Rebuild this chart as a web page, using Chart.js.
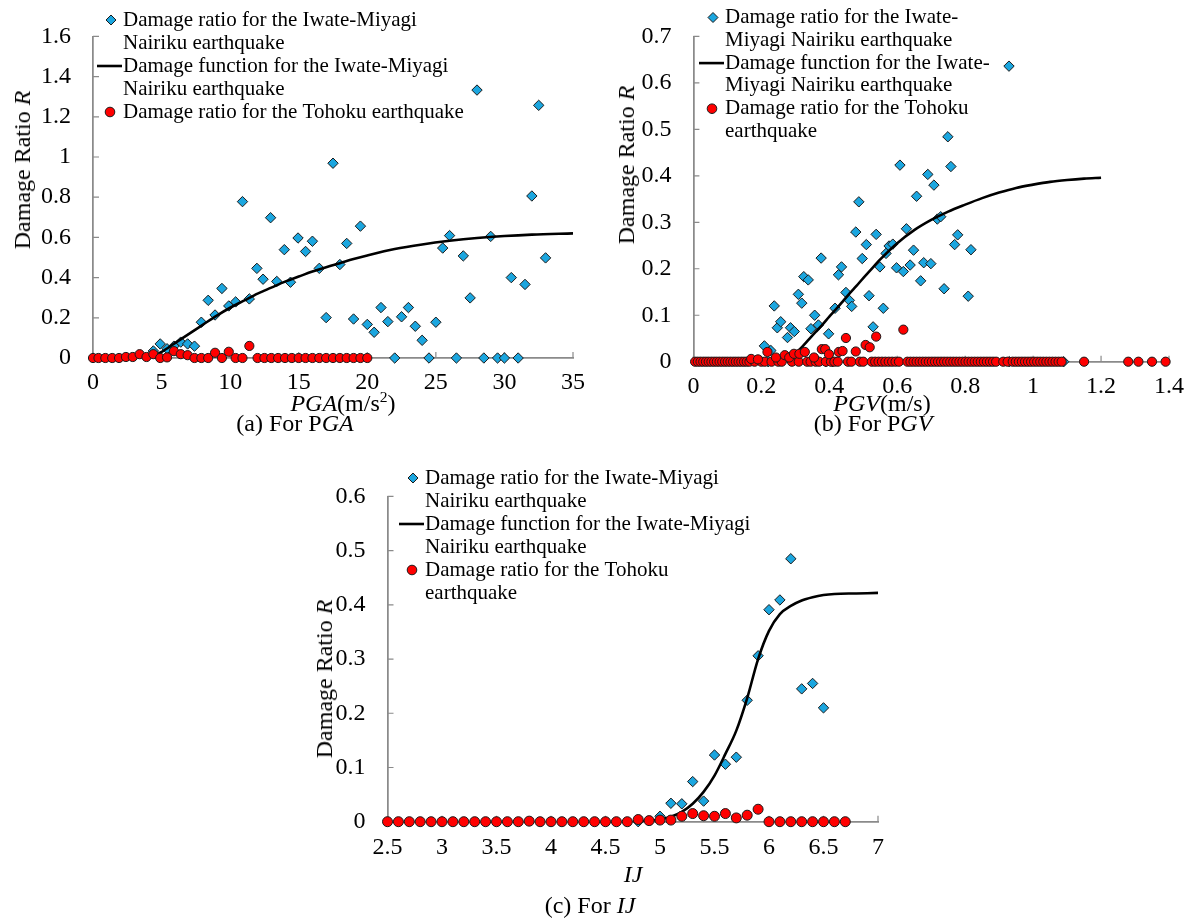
<!DOCTYPE html>
<html>
<head>
<meta charset="utf-8">
<script src="https://cdn.jsdelivr.net/npm/chart.js@4.4.1/dist/chart.umd.min.js"></script>
<style>
  body { margin: 0; background: #fff; width: 1195px; height: 924px; position: relative; overflow: hidden;
         font-family: "Liberation Serif", "Times New Roman", serif; color: #000; }
  canvas { position: absolute; }
  .lbl { position: absolute; white-space: nowrap; transform: translate(-50%, -50%); font-size: 24px; line-height: 1; }
  .ylbl { transform: translate(-50%, -50%) rotate(-90deg); }
  sup { font-size: 65%; vertical-align: 0.55em; line-height: 0; }
</style>
</head>
<body>
<canvas id="chart-pga" width="600" height="400" style="left:0;top:0"></canvas>
<canvas id="chart-pgv" width="595" height="400" style="left:600px;top:0"></canvas>
<canvas id="chart-ij" width="620" height="420" style="left:290px;top:460px"></canvas>

<div class="lbl ylbl" style="left:22px;top:170px">Damage Ratio <i>R</i></div>
<div class="lbl" style="left:343px;top:403px"><i>PGA</i>(m/s<sup>2</sup>)</div>
<div class="lbl" style="left:295px;top:423px">(a) For P<i>GA</i></div>

<div class="lbl ylbl" style="left:626px;top:165px">Damage Ratio <i>R</i></div>
<div class="lbl" style="left:882px;top:403px"><i>PGV</i>(m/s)</div>
<div class="lbl" style="left:873px;top:423px">(b) For P<i>GV</i></div>

<div class="lbl ylbl" style="left:324px;top:679px">Damage Ratio <i>R</i></div>
<div class="lbl" style="left:633px;top:874px"><i>IJ</i></div>
<div class="lbl" style="left:590px;top:905px">(c) For <i>IJ</i></div>

<script>
// ---- (a) PGA ----
const pgaIwateX = [4.4, 4.9, 5.4, 5.9, 6.4, 6.9, 7.4, 7.9, 8.4, 8.9, 9.4, 9.9, 10.4, 10.9, 11.4, 11.95,
  12.4, 12.95, 13.4, 13.95, 14.4, 14.95, 15.5, 16, 16.5, 17, 17.5, 18, 18.5, 19, 19.5, 20, 20.5, 21,
  21.5, 22, 22.5, 23, 23.5, 24, 24.5, 25, 25.5, 26, 26.5, 27, 27.5, 28, 28.5, 29, 29.5, 30, 30.5, 31,
  31.5, 32, 32.5, 33];
const pgaIwateY = [0.035, 0.07, 0.046, 0.059, 0.079, 0.07, 0.059, 0.178, 0.287, 0.214, 0.346, 0.259,
  0.279, 0.778, 0.294, 0.446, 0.392, 0.698, 0.381, 0.539, 0.377, 0.597, 0.53, 0.581, 0.446, 0.201,
  0.969, 0.465, 0.57, 0.194, 0.656, 0.167, 0.128, 0.251, 0.181, 0, 0.205, 0.251, 0.158, 0.088, 0,
  0.178, 0.547, 0.609, 0, 0.508, 0.299, 1.333, 0, 0.605, 0, 0, 0.4, 0, 0.366, 0.806, 1.257, 0.498];
const pgaCurveX = [4.2, 5, 6, 7, 8, 9, 10, 11, 12, 13, 14, 15, 16, 17, 18, 19, 20, 22, 24, 26, 28, 30, 32, 35];
const pgaCurveY = [0, 0.03, 0.075, 0.12, 0.165, 0.21, 0.25, 0.285, 0.32, 0.35, 0.38, 0.405, 0.43,
  0.452, 0.472, 0.492, 0.51, 0.542, 0.565, 0.583, 0.597, 0.607, 0.614, 0.62];
const pgaTohokuX = [0, 0.4, 0.9, 1.4, 1.9, 2.4, 2.9, 3.4, 3.9, 4.4, 4.9, 5.4, 5.9, 6.4, 6.9, 7.4, 7.9,
  8.4, 8.9, 9.4, 9.9, 10.4, 10.9, 11.4, 12, 12.5, 13, 13.5, 14, 14.5, 15, 15.5, 16, 16.5, 17, 17.5,
  18, 18.5, 19, 19.5, 20];
const pgaTohokuY = [0, 0, 0, 0, 0, 0.005, 0.005, 0.019, 0.005, 0.019, 0, 0.003, 0.034, 0.019, 0.014,
  0, 0, 0, 0.026, 0, 0.031, 0, 0, 0.06, 0, 0, 0, 0, 0, 0, 0, 0, 0, 0, 0, 0, 0, 0, 0, 0, 0];
const pgaTicksX = [0, 5, 10, 15, 20, 25, 30, 35];
const pgaTicksY = [0, 0.2, 0.4, 0.6, 0.8, 1, 1.2, 1.4, 1.6];

// ---- (b) PGV ----
const pgvIwateX = [0.209, 0.228, 0.238, 0.247, 0.257, 0.277, 0.286, 0.297, 0.309, 0.319, 0.325, 0.338,
  0.346, 0.357, 0.368, 0.376, 0.398, 0.417, 0.427, 0.436, 0.449, 0.459, 0.466, 0.478, 0.487, 0.497,
  0.509, 0.517, 0.529, 0.538, 0.549, 0.559, 0.567, 0.576, 0.587, 0.598, 0.608, 0.618, 0.627, 0.638,
  0.648, 0.657, 0.669, 0.678, 0.69, 0.699, 0.708, 0.718, 0.728, 0.738, 0.749, 0.758, 0.769, 0.778,
  0.809, 0.817, 0.929, 0.22, 0.39, 0.41, 0.93, 1.09];
const pgvIwateY = [0.034, 0.024, 0.12, 0.073, 0.086, 0.052, 0.073, 0.065, 0.145, 0.126, 0.183, 0.176,
  0.071, 0.1, 0.079, 0.223, 0.06, 0.115, 0.187, 0.204, 0.149, 0.132, 0.119, 0.279, 0.344, 0.222,
  0.252, 0.142, 0.075, 0.274, 0.204, 0.115, 0.233, 0.249, 0.253, 0.202, 0.423, 0.194, 0.286, 0.208,
  0.24, 0.356, 0.174, 0.213, 0.403, 0.211, 0.38, 0.307, 0.312, 0.157, 0.484, 0.42, 0.252, 0.273,
  0.141, 0.241, 0.636, 0, 0, 0, 0, 0];
const pgvCurveX = [0.22, 0.26, 0.28, 0.3, 0.32, 0.34, 0.36, 0.38, 0.4, 0.42, 0.44, 0.46, 0.48, 0.5,
  0.52, 0.55, 0.6, 0.65, 0.7, 0.75, 0.8, 0.85, 0.9, 0.95, 1, 1.05, 1.1, 1.15, 1.2];
const pgvCurveY = [0, 0.003, 0.008, 0.018, 0.032, 0.048, 0.064, 0.08, 0.097, 0.113, 0.13, 0.147,
  0.163, 0.18, 0.196, 0.22, 0.255, 0.283, 0.305, 0.323, 0.338, 0.352, 0.364, 0.374, 0.381, 0.387,
  0.391, 0.394, 0.396];
// Tohoku points lying on R = 0
const pgvTohokuZeroX = [0.005, 0.013, 0.021, 0.029, 0.037, 0.045, 0.053, 0.061, 0.069, 0.077, 0.085,
  0.093, 0.101, 0.109, 0.117, 0.125, 0.133, 0.141, 0.149, 0.157, 0.165, 0.18, 0.2, 0.21, 0.23, 0.25,
  0.26, 0.29, 0.31, 0.335, 0.345, 0.36, 0.37, 0.39, 0.405, 0.415, 0.425, 0.455, 0.465, 0.49, 0.5,
  0.525, 0.535, 0.545, 0.555, 0.565, 0.575, 0.585, 0.595, 0.605, 0.63, 0.639, 0.648, 0.657, 0.666,
  0.675, 0.684, 0.693, 0.702, 0.711, 0.72, 0.729, 0.738, 0.747, 0.756, 0.765, 0.774, 0.783, 0.792,
  0.801, 0.81, 0.819, 0.828, 0.837, 0.846, 0.855, 0.864, 0.873, 0.882, 0.891, 0.912, 0.925, 0.94,
  0.949, 0.958, 0.967, 0.976, 0.985, 0.994, 1.003, 1.012, 1.021, 1.03, 1.039, 1.048, 1.057, 1.066,
  1.075, 1.084, 1.15, 1.28, 1.31, 1.35, 1.39];
const pgvTohokuX = [0.17, 0.19, 0.218, 0.243, 0.269, 0.282, 0.296, 0.312, 0.328, 0.355, 0.378, 0.388,
  0.399, 0.428, 0.439, 0.449, 0.478, 0.507, 0.519, 0.538, 0.618];
const pgvTohokuY = [0.006, 0.005, 0.021, 0.009, 0.014, 0.009, 0.017, 0.017, 0.021, 0.009, 0.027,
  0.027, 0.016, 0.021, 0.023, 0.051, 0.022, 0.036, 0.031, 0.054, 0.069];
const pgvTicksX = [0, 0.2, 0.4, 0.6, 0.8, 1, 1.2, 1.4];
const pgvTicksY = [0, 0.1, 0.2, 0.3, 0.4, 0.5, 0.6, 0.7];

// ---- (c) IJ ----
const ijIwateX = [4.8, 5, 5.1, 5.2, 5.3, 5.4, 5.5, 5.6, 5.7, 5.8, 5.9, 6, 6.1, 6.2, 6.3, 6.4, 6.5];
const ijIwateY = [0, 0.01, 0.034, 0.033, 0.074, 0.038, 0.123, 0.106, 0.119, 0.224, 0.306, 0.391,
  0.409, 0.485, 0.245, 0.255, 0.21];
const ijCurveX = [4.75, 5, 5.1, 5.2, 5.3, 5.4, 5.5, 5.6, 5.7, 5.8, 5.9, 6, 6.1, 6.2, 6.3, 6.4, 6.5, 6.6, 6.8, 7];
const ijCurveY = [0, 0.004, 0.009, 0.018, 0.033, 0.055, 0.085, 0.125, 0.168, 0.228, 0.3, 0.352,
  0.383, 0.398, 0.408, 0.414, 0.418, 0.42, 0.421, 0.422];
const ijTohokuX = [2.5, 2.6, 2.7, 2.8, 2.9, 3, 3.1, 3.2, 3.3, 3.4, 3.5, 3.6, 3.7, 3.8, 3.9, 4, 4.1,
  4.2, 4.3, 4.4, 4.5, 4.6, 4.7, 4.8, 4.9, 5, 5.1, 5.2, 5.3, 5.4, 5.5, 5.6, 5.7, 5.8, 5.9, 6, 6.1,
  6.2, 6.3, 6.4, 6.5, 6.6, 6.7];
const ijTohokuY = [0, 0, 0, 0, 0, 0, 0, 0, 0, 0, 0, 0, 0, 0.001, 0, 0, 0, 0, 0, 0, 0, 0, 0, 0.004,
  0.002, 0.003, 0.003, 0.01, 0.015, 0.011, 0.01, 0.015, 0.007, 0.012, 0.023, 0, 0, 0, 0, 0, 0, 0, 0];
const ijTicksX = [2.5, 3, 3.5, 4, 4.5, 5, 5.5, 6, 6.5, 7];
const ijTicksY = [0, 0.1, 0.2, 0.3, 0.4, 0.5, 0.6];

const GRAY = "#8a8a8a";
const BLUE = "#1ba6df";
const RED = "#ff0000";
const EDGE = "#1a1a1a";
const SERIF = '"Liberation Serif", "Times New Roman", serif';

const pairs = (xs, ys) => xs.map((x, i) => ({ x: x, y: ys[i] }));

// excel-style tick marks pointing into the plot
const innerTicks = {
  id: "innerTicks",
  beforeDatasetsDraw(chart) {
    const ctx = chart.ctx;
    const { x, y } = chart.scales;
    ctx.save();
    ctx.strokeStyle = GRAY;
    ctx.lineWidth = 1.2;
    ctx.beginPath();
    x.ticks.forEach((t) => {
      const px = x.getPixelForValue(t.value);
      ctx.moveTo(px, y.bottom);
      ctx.lineTo(px, y.bottom - 6);
    });
    y.ticks.forEach((t) => {
      const py = y.getPixelForValue(t.value);
      ctx.moveTo(x.left, py);
      ctx.lineTo(x.left + 6, py);
    });
    ctx.stroke();
    ctx.restore();
  },
};

// legend with wrapped lines, drawn like the original figure
const paperLegend = {
  id: "paperLegend",
  afterDraw(chart, args, opts) {
    const ctx = chart.ctx;
    ctx.save();
    ctx.font = "21px " + SERIF;
    ctx.textBaseline = "middle";
    ctx.fillStyle = "#000";
    let row = 0;
    opts.items.forEach((item) => {
      const cy = opts.y + row * opts.step;
      const mx = opts.textX - 12;
      if (item.type === "diamond") {
        ctx.beginPath();
        ctx.moveTo(mx - 5, cy);
        ctx.lineTo(mx, cy - 5);
        ctx.lineTo(mx + 5, cy);
        ctx.lineTo(mx, cy + 5);
        ctx.closePath();
        ctx.fillStyle = BLUE;
        ctx.fill();
        ctx.strokeStyle = EDGE;
        ctx.lineWidth = 1;
        ctx.stroke();
      } else if (item.type === "line") {
        ctx.beginPath();
        ctx.moveTo(opts.textX - 26, cy);
        ctx.lineTo(opts.textX - 1, cy);
        ctx.strokeStyle = "#000";
        ctx.lineWidth = 2.6;
        ctx.stroke();
      } else {
        ctx.beginPath();
        ctx.arc(mx - 1, cy, 4.8, 0, Math.PI * 2);
        ctx.fillStyle = RED;
        ctx.fill();
        ctx.strokeStyle = EDGE;
        ctx.lineWidth = 1;
        ctx.stroke();
      }
      ctx.fillStyle = "#000";
      item.lines.forEach((txt) => {
        ctx.fillText(txt, opts.textX, opts.y + row * opts.step);
        row++;
      });
    });
    ctx.restore();
  },
};

function axis(min, max, ticks, size, pad) {
  return {
    type: "linear",
    min: min,
    max: max,
    afterBuildTicks: (s) => { s.ticks = ticks.map((v) => ({ value: v })); },
    afterFit: (s) => { if (s.isHorizontal()) s.height = size; else s.width = size; },
    grid: { display: true, drawOnChartArea: false, drawTicks: false },
    border: { color: GRAY, width: 1.75 },
    ticks: { color: "#000", font: { family: SERIF, size: 24 }, padding: pad,
             maxRotation: 0, autoSkip: false, callback: (v) => String(v) },
  };
}

function drawFigure(id, d) {
  new Chart(document.getElementById(id), {
    type: "scatter",
    data: {
      datasets: [
        { label: "Damage ratio for the Tohoku earthquake", data: d.tohoku, order: 0, clip: false,
          pointStyle: "circle", pointRadius: d.redR, pointBackgroundColor: RED,
          pointBorderColor: EDGE, pointBorderWidth: 1 },
        { type: "line", label: "Damage function for the Iwate-Miyagi Nairiku earthquake", data: d.curve,
          order: 1, showLine: true, pointRadius: 0, borderColor: "#000", borderWidth: 2.6,
          cubicInterpolationMode: "monotone", fill: false },
        { label: "Damage ratio for the Iwate-Miyagi Nairiku earthquake", data: d.iwate, order: 2, clip: false,
          pointStyle: "rectRot", pointRadius: 5.2, pointBackgroundColor: BLUE,
          pointBorderColor: EDGE, pointBorderWidth: 1 },
      ],
    },
    options: {
      responsive: false,
      animation: false,
      devicePixelRatio: 1,
      layout: { padding: d.padding },
      scales: {
        x: axis(d.xMin, d.xMax, d.ticksX, d.xSize, d.xPad),
        y: axis(0, d.yMax, d.ticksY, d.ySize, 22),
      },
      plugins: {
        legend: { display: false },
        tooltip: { enabled: false },
        paperLegend: d.legend,
      },
    },
    plugins: [innerTicks, paperLegend],
  });
}

drawFigure("chart-pga", {
  iwate: pairs(pgaIwateX, pgaIwateY),
  curve: pairs(pgaCurveX, pgaCurveY),
  tohoku: pairs(pgaTohokuX, pgaTohokuY),
  xMin: 0, xMax: 35, yMax: 1.6, ticksX: pgaTicksX, ticksY: pgaTicksY,
  padding: { left: 0, top: 14, right: 27, bottom: 0 }, xSize: 42, ySize: 93, xPad: 10, redR: 4.6,
  legend: { textX: 123, y: 20, step: 23, items: [
    { type: "diamond", lines: ["Damage ratio for the Iwate-Miyagi", "Nairiku earthquake"] },
    { type: "line", lines: ["Damage function for the Iwate-Miyagi", "Nairiku earthquake"] },
    { type: "circle", lines: ["Damage ratio for the Tohoku earthquake"] },
  ] },
});

drawFigure("chart-pgv", {
  iwate: pairs(pgvIwateX, pgvIwateY),
  curve: pairs(pgvCurveX, pgvCurveY),
  tohoku: pgvTohokuZeroX.map((x) => ({ x: x, y: 0 })).concat(pairs(pgvTohokuX, pgvTohokuY)),
  xMin: 0, xMax: 1.4, yMax: 0.7, ticksX: pgvTicksX, ticksY: pgvTicksY,
  padding: { left: 0, top: 21.5, right: 23, bottom: 0 }, xSize: 38.3, ySize: 93.4, xPad: 11, redR: 4.6,
  legend: { textX: 125, y: 17.5, step: 22.8, items: [
    { type: "diamond", lines: ["Damage ratio for the Iwate-", "Miyagi Nairiku earthquake"] },
    { type: "line", lines: ["Damage function for the Iwate-", "Miyagi Nairiku earthquake"] },
    { type: "circle", lines: ["Damage ratio for the Tohoku", "earthquake"] },
  ] },
});

drawFigure("chart-ij", {
  iwate: pairs(ijIwateX, ijIwateY),
  curve: pairs(ijCurveX, ijCurveY),
  tohoku: pairs(ijTohokuX, ijTohokuY),
  xMin: 2.5, xMax: 7, yMax: 0.6, ticksX: ijTicksX, ticksY: ijTicksY,
  padding: { left: 0, top: 17, right: 32, bottom: 0 }, xSize: 58.3, ySize: 97.5, xPad: 12, redR: 5,
  legend: { textX: 135, y: 18, step: 23, items: [
    { type: "diamond", lines: ["Damage ratio for the Iwate-Miyagi", "Nairiku earthquake"] },
    { type: "line", lines: ["Damage function for the Iwate-Miyagi", "Nairiku earthquake"] },
    { type: "circle", lines: ["Damage ratio for the Tohoku", "earthquake"] },
  ] },
});
</script>
</body>
</html>
